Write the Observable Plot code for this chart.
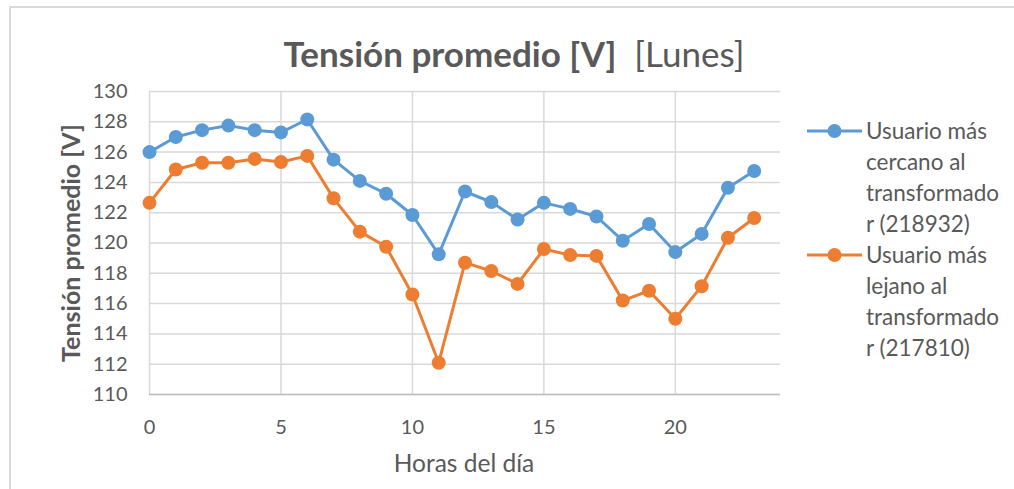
<!DOCTYPE html>
<html><head><meta charset="utf-8">
<script src="https://cdn.jsdelivr.net/npm/d3@7"></script>
<script src="https://cdn.jsdelivr.net/npm/@observablehq/plot@0.6"></script>
<style>
body{margin:0;background:#fff;font-family:Lato,"Open Sans",sans-serif;}
#wrap{position:relative;width:1014px;height:489px;overflow:hidden;background:#fff;}
#frame{position:absolute;left:9px;top:6px;width:1100px;height:600px;border-left:2px solid #dadada;border-top:2px solid #dadada;}
#chart{position:absolute;left:0;top:0;}
#title{position:absolute;left:0;top:36px;width:1028px;text-align:center;font-size:35px;line-height:35px;color:#595959;white-space:pre;}
#title b{font-weight:700;}
#ylabel{position:absolute;left:70px;top:243px;transform:translate(-50%,-50%) rotate(-90deg);font-size:25px;font-weight:700;color:#595959;white-space:nowrap;}
#xlabel{position:absolute;left:464px;top:462px;transform:translate(-50%,-50%);font-size:24.5px;color:#595959;white-space:nowrap;}
#legend{position:absolute;left:807px;top:115px;}
.item{position:relative;}
.item svg{position:absolute;left:0;top:0;}
.item .txt{margin-left:59px;font-size:22.5px;line-height:31px;color:#595959;}
</style></head>
<body>
<div id="wrap">
  <div id="frame"></div>
  <div id="chart"></div>
  <div id="title"><b>Tensión promedio [V]</b>  [Lunes]</div>
  <div id="ylabel">Tensión promedio [V]</div>
  <div id="xlabel">Horas del día</div>
  <div id="legend"></div>
</div>
<script>
const horas = [0,1,2,3,4,5,6,7,8,9,10,11,12,13,14,15,16,17,18,19,20,21,22,23];
const cercano = [126.0,127.0,127.45,127.75,127.45,127.3,128.15,125.5,124.1,123.25,121.85,119.25,123.4,122.7,121.55,122.65,122.25,121.75,120.15,121.25,119.4,120.6,123.65,124.75];
const lejano = [122.65,124.85,125.3,125.3,125.55,125.35,125.75,122.95,120.75,119.75,116.6,112.1,118.7,118.15,117.3,119.6,119.2,119.15,116.2,116.85,115.0,117.15,120.35,121.65];
const serieNames = ["Usuario más cercano al transformado r (218932)", "Usuario más lejano al transformado r (217810)"];
const legendLines = [["Usuario más","cercano al","transformado","r (218932)"],["Usuario más","lejano al","transformado","r (217810)"]];
const colors = ["#5B9BD5", "#ED7D31"];
const yTicks = [110,112,114,116,118,120,122,124,126,128,130];
const xTicks = [0,5,10,15,20];

const rowsA = horas.map((h,i)=>({hora:h, v:cercano[i]}));
const rowsB = horas.map((h,i)=>({hora:h, v:lejano[i]}));

const plot = Plot.plot({
  width:1014, height:489,
  marginLeft:149, marginRight:234, marginTop:91, marginBottom:95,
  x:{domain:[0,24]},
  y:{domain:[110,130]},
  style:{fontFamily:"Lato, 'Open Sans', sans-serif", fontSize:"20px", color:"#595959", background:"transparent", overflow:"visible"},
  marks:[
    Plot.gridY(yTicks, {stroke:"#d9d9d9", strokeOpacity:1, strokeWidth:1.5}),
    Plot.gridX(xTicks, {stroke:"#d9d9d9", strokeOpacity:1, strokeWidth:1.5}),
    Plot.ruleY([110], {stroke:"#bfbfbf", strokeWidth:1.5}),
    Plot.axisY(yTicks, {tickSize:0, tickPadding:22, label:null, fill:"#595959"}),
    Plot.axisX(xTicks, {tickSize:0, tickPadding:25, label:null, fill:"#595959"}),
    Plot.line(rowsA, {x:"hora", y:"v", stroke:colors[0], strokeWidth:3}),
    Plot.dot(rowsA, {x:"hora", y:"v", r:7, fill:colors[0], stroke:null}),
    Plot.line(rowsB, {x:"hora", y:"v", stroke:colors[1], strokeWidth:3}),
    Plot.dot(rowsB, {x:"hora", y:"v", r:7, fill:colors[1], stroke:null})
  ]
});
document.getElementById("chart").appendChild(plot);

const leg = document.getElementById("legend");
legendLines.forEach((lines,i)=>{
  const item = document.createElement("div");
  item.className = "item";
  item.title = serieNames[i];
  item.innerHTML = `<svg width="56" height="31"><line x1="0" x2="55" y1="16" y2="16" stroke="${colors[i]}" stroke-width="3"/><circle cx="27.5" cy="16" r="7" fill="${colors[i]}"/></svg><div class="txt">${lines.join("<br>")}</div>`;
  leg.appendChild(item);
});
</script>
</body></html>
